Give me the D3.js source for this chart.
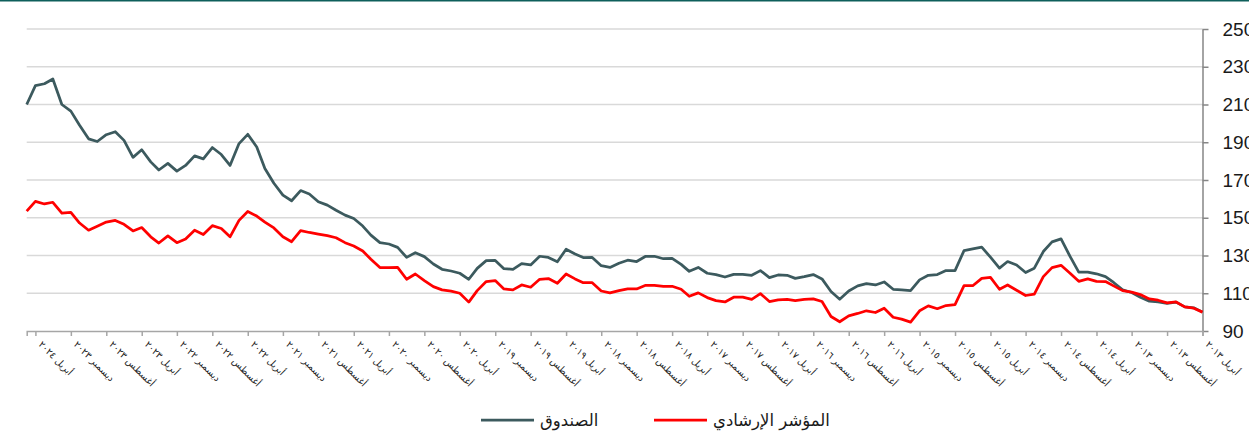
<!DOCTYPE html>
<html>
	<head>
		<meta charset="utf-8">
		<title>Fund vs benchmark</title>
		<script src="https://d3js.org/d3.v7.min.js"></script>
		<style>
			body { margin: 0; background: #fff; }
			svg { display: block; }
		</style>
	</head>
	<body>
		<script>
			var w = 1249;
			var h = 435;

			// monthly points, newest first (May 2024 ... Apr 2013)
			var firstMonth = new Date(2024, 4, 1);
			var lastMonth = new Date(2013, 3, 1);

			var fundValues = [
				210, 220, 221, 223.5, 210, 206.5, 199, 191.8, 190.4, 194, 195.6, 191, 182, 186, 179.6, 175.3, 178.8,
				174.7, 177.7, 182.8, 181.2, 187.2, 183.5, 177.7, 189.3, 194.2, 187.5, 176.1, 168.3, 162, 159, 164.4,
				162.6, 158.5,
				156.7, 154, 151.4, 149.6, 145.6, 140.8, 136.8, 136.1, 134.3, 129, 131.5, 129.4, 125.5, 122.7, 121.8,
				120.6, 117.4, 123.2, 127.3, 127.4, 123, 122.7, 125.7, 125, 129.6, 129, 126.7, 133.3, 130.8, 128.9,
				129, 124.6, 123.7,
				125.9, 127.5, 126.8, 129.6, 129.6, 128.3, 128.5, 125.3, 121.6, 123.7, 120.6, 119.9, 118.6, 120, 120,
				119.5, 122, 118.3, 119.7, 119.5, 117.9, 118.8, 119.9, 117.6, 110.9, 106.8, 111.2, 113.9, 115.1, 114.4,
				116, 112.1,
				111.8, 111.4, 117.1, 119.5, 119.9, 122, 122, 132.6, 133.5, 134.4, 129.1, 123.3, 126.8, 125, 121, 123.3,
				132.1, 137.2, 138.8, 129.5, 121.2, 121.2, 120.3, 118.8, 115.7, 111.8, 110.4, 107.9, 105.8, 105.4,
				104.6, 105.3, 102.8, 102.3, 100
			];

			var benchValues = [
				153.5, 158.7, 157.3, 158.2, 152.4, 152.8, 147.2, 143.4, 145.5, 147.7, 148.6, 146.5, 143, 144.8, 139.9,
				136.6, 140.4, 136.8, 138.7, 143.4, 141.1, 145.8, 144.3, 139.9, 148.6, 153.3, 150.9, 147.7, 144.6,
				139.9, 137.3, 143.2, 142.2, 141.3,
				140.5, 139.4, 136.8, 135, 132.4, 128, 123.6, 123.6, 123.7, 117.4, 120.2, 116.7, 113.5, 111.8, 111.1,
				110, 105.3, 111.4, 116.2, 116.7, 112.3, 111.8, 114.4, 113.2, 117.4, 117.8, 115.3, 120.2, 117.6, 115.6,
				115.6, 111.2, 110.2,
				111.4, 112.3, 112.3, 114.2, 114.2, 113.7, 113.7, 112.1, 108.4, 110.2, 107.7, 106.1, 105.4, 107.9,
				107.9, 106.8, 109.8, 105.6, 106.5, 106.7, 106.1, 106.7, 107, 105.6, 97.7, 94.9, 98, 99.3, 100.7, 99.8,
				102.1, 97.3,
				96.3, 94.7, 100.7, 103.3, 101.8, 103.5, 104, 114, 114, 117.9, 118.4, 112.1, 114.4, 111.6, 108.8, 109.5,
				118.8, 123.6, 124.8, 120.6, 116.3, 117.6, 116.3, 116.2, 113.9, 111.4, 110.6, 109.3, 107, 106.3, 104.9,
				105.4, 102.8, 102.1, 100
			];

			// x tick labels, every 4 months starting Apr 2024
			var tickLabels = [
				"أبريل ٢٠٢٤",
				"ديسمبر ٢٠٢٣", "أغسطس ٢٠٢٣", "أبريل ٢٠٢٣",
				"ديسمبر ٢٠٢٢", "أغسطس ٢٠٢٢", "أبريل ٢٠٢٢",
				"ديسمبر ٢٠٢١", "أغسطس ٢٠٢١", "أبريل ٢٠٢١",
				"ديسمبر ٢٠٢٠", "أغسطس ٢٠٢٠", "أبريل ٢٠٢٠",
				"ديسمبر ٢٠١٩", "أغسطس ٢٠١٩", "أبريل ٢٠١٩",
				"ديسمبر ٢٠١٨", "أغسطس ٢٠١٨", "أبريل ٢٠١٨",
				"ديسمبر ٢٠١٧", "أغسطس ٢٠١٧", "أبريل ٢٠١٧",
				"ديسمبر ٢٠١٦", "أغسطس ٢٠١٦", "أبريل ٢٠١٦",
				"ديسمبر ٢٠١٥", "أغسطس ٢٠١٥", "أبريل ٢٠١٥",
				"ديسمبر ٢٠١٤", "أغسطس ٢٠١٤", "أبريل ٢٠١٤",
				"ديسمبر ٢٠١٣", "أغسطس ٢٠١٣", "أبريل ٢٠١٣"
			];

			var yTicks = [90, 110, 130, 150, 170, 190, 210, 230, 250];

			var seriesNames = ["الصندوق", "المؤشر الإرشادي"];
			var seriesColors = ["#3c5a5e", "#ff0000"];

			var plotLeft = 26.7;
			var plotRight = 1202.5;
			var plotTop = 29;
			var plotBottom = 331;

			var months = fundValues.map(function(d, i) {
				return d3.timeMonth.offset(firstMonth, -i);
			});
			var tickDates = tickLabels.map(function(d, i) {
				return d3.timeMonth.offset(new Date(2024, 3, 1), -4 * i);
			});

			var xScale = d3.scaleTime()
				.domain([firstMonth, lastMonth])
				.range([plotLeft, plotRight]);

			var yScale = d3.scaleLinear()
				.domain([90, 250])
				.range([plotBottom, plotTop]);

			var svg = d3.select("body")
				.append("svg")
				.attr("width", w)
				.attr("height", h);

			// thin frame line at the top
			svg.append("rect")
				.attr("x", 0).attr("y", 0)
				.attr("width", w).attr("height", 1.5)
				.attr("fill", "#0e5f5b");

			// grid
			svg.append("g")
				.selectAll("line")
				.data(yTicks.slice(1))
				.enter()
				.append("line")
				.attr("x1", plotLeft)
				.attr("x2", plotRight)
				.attr("y1", function(d) { return yScale(d); })
				.attr("y2", function(d) { return yScale(d); })
				.attr("stroke", "#d9d9d9")
				.attr("stroke-width", 1.6);

			// y axis on the right
			var yAxis = d3.axisRight(yScale)
				.tickValues(yTicks)
				.tickSize(6)
				.tickSizeOuter(0)
				.tickPadding(14)
				.tickFormat(d3.format("d"));

			var yG = svg.append("g")
				.attr("transform", "translate(" + plotRight + ",0)")
				.call(yAxis);
			yG.select(".domain").attr("stroke", "#868686").attr("stroke-width", 1.5);
			yG.selectAll(".tick line").attr("stroke", "#868686").attr("stroke-width", 1.5);
			yG.selectAll(".tick text")
				.attr("font-family", "Liberation Sans, Arial, sans-serif")
				.attr("font-size", 19)
				.attr("fill", "#1a1a1a");

			// x axis at the bottom
			var xAxis = d3.axisBottom(xScale)
				.tickValues(tickDates)
				.tickSizeOuter(0)
				.tickSize(5)
				.tickFormat(function(d, i) { return tickLabels[i]; });

			var xG = svg.append("g")
				.attr("transform", "translate(0," + plotBottom + ")")
				.call(xAxis);
			xG.select(".domain").attr("stroke", "#a6a6a6").attr("stroke-width", 1.5);
			xG.selectAll(".tick line").attr("stroke", "#a6a6a6").attr("stroke-width", 1.5);
			xG.selectAll(".tick text")
				.attr("font-family", "DejaVu Sans, sans-serif")
				.attr("font-size", 9.5)
				.attr("fill", "#222")
				.attr("text-anchor", "start")
				.attr("y", 0)
				.attr("dy", 0)
				.attr("transform", "translate(2,14) rotate(45)");

			var line = d3.line()
				.x(function(d, i) { return xScale(months[i]); })
				.y(function(d) { return yScale(d); });

			svg.append("path")
				.datum(fundValues)
				.attr("fill", "none")
				.attr("stroke", seriesColors[0])
				.attr("stroke-width", 2.75)
				.attr("stroke-linejoin", "round")
				.attr("d", line);

			svg.append("path")
				.datum(benchValues)
				.attr("fill", "none")
				.attr("stroke", seriesColors[1])
				.attr("stroke-width", 2.75)
				.attr("stroke-linejoin", "round")
				.attr("d", line);

			// legend
			var legendItems = [
				{ x: 481, name: seriesNames[0], color: seriesColors[0] },
				{ x: 654, name: seriesNames[1], color: seriesColors[1] }
			];
			var lg = svg.append("g").selectAll("g")
				.data(legendItems)
				.enter()
				.append("g")
				.attr("transform", function(d) { return "translate(" + d.x + ",420)"; });
			lg.append("line")
				.attr("x1", 0).attr("x2", 53)
				.attr("y1", 0).attr("y2", 0)
				.attr("stroke", function(d) { return d.color; })
				.attr("stroke-width", 2.75);
			lg.append("text")
				.attr("x", 59)
				.attr("y", 5.5)
				.attr("font-family", "DejaVu Sans, sans-serif")
				.attr("font-size", 16.5)
				.attr("fill", "#1a1a1a")
				.text(function(d) { return d.name; });
		</script>
	</body>
</html>
